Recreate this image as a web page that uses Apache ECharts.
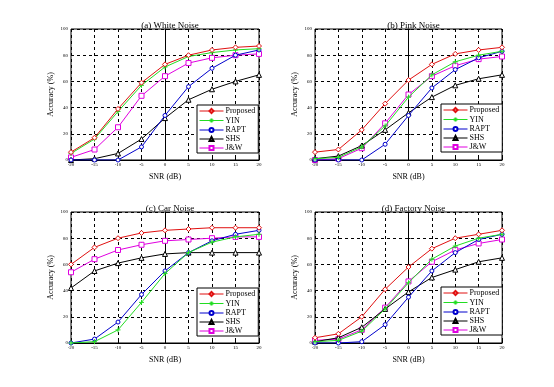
<!DOCTYPE html>
<html><head><meta charset="utf-8">
<script src="https://cdn.jsdelivr.net/npm/echarts@6/dist/echarts.min.js"></script>
<style>html,body{margin:0;padding:0;background:#fff}#c{width:554px;height:387px}</style>
</head><body><div id="c"></div>
<script>
const snr = [-20,-15,-10,-5,0,5,10,15,20];
const yTicks = [0,20,40,60,80,100];
const seriesNames = ['Proposed','YIN','RAPT','SHS','J&W'];
const panelTitles = ['(a) White Noise','(b) Pink Noise','(c) Car Noise','(d) Factory Noise'];

// (a) White noise
const whiteProposed = [6,17,39,59,73,80,84,86,87];
const whiteYIN      = [5,16,37,57,71,79,82,84,85];
const whiteRAPT     = [0,0,0,10,34,56,70,80,84];
const whiteSHS      = [0,1,5,16,32,46,54,60,65];
const whiteJW       = [2,8,25,49,64,74,78,80,81];
// (b) Pink noise
const pinkProposed = [6,8,23,43,61,73,81,84,86];
const pinkYIN      = [1,2,10,26,48,65,75,80,83];
const pinkRAPT     = [0,0,0,12,34,55,69,78,83];
const pinkSHS      = [1,3,11,23,36,48,57,62,65];
const pinkJW       = [0,1,9,28,50,64,72,77,79];
// (c) Car noise
const carProposed = [60,73,80,84,86,87,88,88,88];
const carYIN      = [0,1,10,31,53,69,77,81,83];
const carRAPT     = [0,3,16,37,55,69,78,83,86];
const carSHS      = [42,55,61,65,68,69,69,69,69];
const carJW       = [54,64,71,75,78,79,80,81,81];
// (d) Factory noise
const factProposed = [4,7,20,41,58,72,80,83,86];
const factYIN      = [1,2,9,26,46,64,74,80,83];
const factRAPT     = [0,0,1,14,35,55,69,79,83];
const factSHS      = [1,4,12,26,39,50,56,62,65];
const factJW       = [2,3,10,27,47,62,71,76,79];

const panels = [
  [whiteProposed, whiteYIN, whiteRAPT, whiteSHS, whiteJW],
  [pinkProposed, pinkYIN, pinkRAPT, pinkSHS, pinkJW],
  [carProposed, carYIN, carRAPT, carSHS, carJW],
  [factProposed, factYIN, factRAPT, factSHS, factJW]
];

const colors = ['#e01010','#22dd22','#0000cc','#000000','#e000e0'];
const symbols = ['diamond','path://M0,-1L0,1M-1,0L1,0','circle','triangle','rect'];
const symbolSizes = [5,5,4,5,5];
const fills = ['#fff','none','#fff','#fff','#fff'];

const F = 'Liberation Serif, Times New Roman, serif';
const grids = [
  {left:71, top:29, width:188, height:131},
  {left:315, top:29, width:187, height:131},
  {left:71, top:212, width:188, height:131},
  {left:315, top:212, width:187, height:131}
];

const option = {
  animation:false,
  backgroundColor:'#fff',
  color: colors,
  title: grids.map((g,i)=>({text:panelTitles[i], left:g.left+g.width/2, top:g.top-13, textAlign:'center',
     textStyle:{fontFamily:F, fontSize:9, fontWeight:'normal', color:'#000'}})),
  grid: grids.map(g=>({left:g.left, top:g.top, width:g.width, height:g.height, show:true, borderColor:'#000', borderWidth:1, backgroundColor:'#fff'})),
  xAxis: grids.map((g,i)=>({gridIndex:i, type:'value', min:-20, max:20, interval:5,
     name:'SNR (dB)', nameLocation:'middle', nameGap:13,
     nameTextStyle:{fontFamily:F, fontSize:8, color:'#000'},
     axisLine:{show:true, lineStyle:{color:'#000', width:1}},
     axisTick:{show:true, inside:true, length:2, lineStyle:{color:'#000'}},
     axisLabel:{fontFamily:F, fontSize:5, color:'#000', margin:2},
     splitLine:{show:true, lineStyle:{color:'#000', type:[3,3], width:1}}})),
  yAxis: grids.map((g,i)=>({gridIndex:i, type:'value', min:yTicks[0], max:yTicks[yTicks.length-1], interval:20,
     name:'Accuracy (%)', nameLocation:'middle', nameGap:16,
     nameTextStyle:{fontFamily:F, fontSize:8, color:'#000'},
     axisLine:{show:true, lineStyle:{color:'#000', width:1}},
     axisTick:{show:true, inside:true, length:2, lineStyle:{color:'#000'}},
     axisLabel:{fontFamily:F, fontSize:5, color:'#000', margin:3},
     splitLine:{show:true, lineStyle:{color:'#000', type:[3,3], width:1}}})),
  legend: [
    {left:197, top:105},{left:441, top:104},{left:197, top:288},{left:441, top:287}
  ].map(p=>({left:p.left, top:p.top, orient:'vertical', data:seriesNames, itemGap:1,
     itemWidth:24, itemHeight:5, padding:[2,3,1,2], backgroundColor:'#fff', borderColor:'#000', borderWidth:1,
     borderRadius:0, lineStyle:{width:1},
     textStyle:{fontFamily:F, fontSize:8, color:'#000', padding:[0,0,0,-3]}, selectedMode:false})),
  series: []
};

panels.forEach((p,pi)=>{
  p.forEach((vals,si)=>{
    option.series.push({
      name:seriesNames[si], type:'line', xAxisIndex:pi, yAxisIndex:pi,
      data: snr.map((x,k)=>[x, vals[k]]),
      color: colors[si],
      symbol: symbols[si], symbolSize: symbolSizes[si], showSymbol:true,
      lineStyle:{color:colors[si], width:1},
      itemStyle:{color: fills[si], borderColor:colors[si], borderWidth:1},
      z: 10 - si
    });
  });
});

const chart = echarts.init(document.getElementById('c'), null, {renderer:'canvas'});
chart.setOption(option);
</script></body></html>
